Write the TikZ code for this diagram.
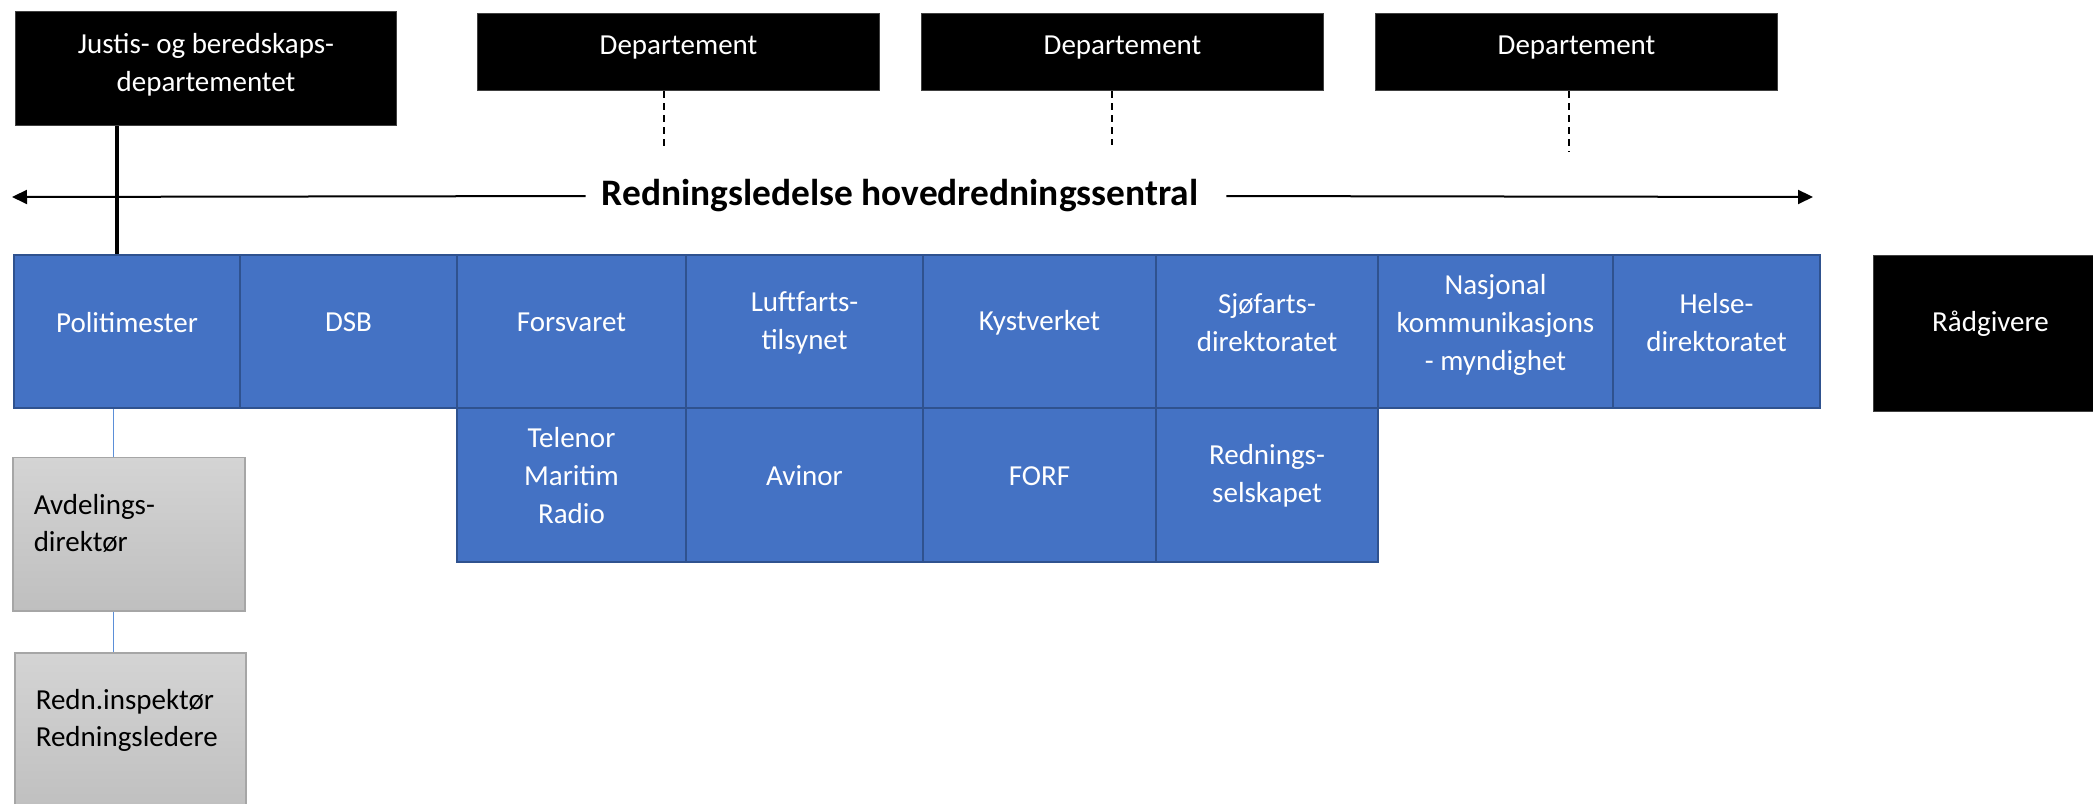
\documentclass[tikz,border=0pt]{standalone}
\usepackage{fontspec}
\setmainfont{Carlito}
\usetikzlibrary{arrows.meta}
\definecolor{cellblue}{HTML}{4472C4}
\definecolor{cellline}{HTML}{2F528F}
\definecolor{greytop}{HTML}{D4D4D4}
\definecolor{greybot}{HTML}{BFBFBF}
\definecolor{greyline}{HTML}{A6A6A6}
\definecolor{linkblue}{HTML}{5B8FD8}
\tikzset{
  box/.style={rectangle, inner sep=0pt, anchor=north west},
  cell/.style={box, fill=cellblue, draw=cellline, line width=2pt},
  blackbox/.style={box, fill=black, draw=black!75, line width=1pt},
  greybox/.style={box, top color=greytop, bottom color=greybot, draw=greyline, line width=1.5pt},
  ctext/.style={text=white, font=\fontsize{29}{38}\selectfont, align=center, inner sep=0pt},
  gtext/.style={text=black, font=\fontsize{29}{37}\selectfont, align=left, text width=200pt, inner sep=0pt},
  jline/.style={line width=3.5pt, black},
  link/.style={line width=1pt, linkblue},
  dline/.style={line width=1.75pt, black, dash pattern=on 7pt off 5pt},
  arr/.style={line width=2pt, black, -{Triangle[length=15pt,width=14pt]}},
}
\begin{document}
\begin{tikzpicture}[x=1pt,y=-1pt]
\useasboundingbox (0,0) rectangle (2093,803);

% top black boxes
\node[blackbox, minimum width=381pt, minimum height=114pt,
  label={[ctext,yshift=4pt]center:{Justis- og beredskaps-\\departementet}}] (jd) at (15,11) {};
\node[blackbox, minimum width=402pt, minimum height=77pt,
  label={[ctext,yshift=4.5pt]center:Departement}] (d1) at (477,13) {};
\node[blackbox, minimum width=402pt, minimum height=77pt,
  label={[ctext,yshift=4.5pt]center:Departement}] (d2) at (921,13) {};
\node[blackbox, minimum width=402pt, minimum height=77pt,
  label={[ctext,yshift=4.5pt]center:Departement}] (d3) at (1375,13) {};

% title with arrows
\node[font=\fontsize{37.4}{44}\selectfont\bfseries, inner sep=0pt] (title) at (900,196) {Redningsledelse hovedredningssentral};
\coordinate (la) at (12,197);
\coordinate (ra) at (1813,197);
\draw[arr, shorten <=16pt] (title.west) -- (la);
\draw[arr, shorten <=28pt] (title.east) -- (ra);

% dashed department links
\coordinate (e1) at (664,147);
\coordinate (e2) at (1112,145);
\coordinate (e3) at (1569,152);
\draw[dline] (d1.south -| e1) -- (e1);
\draw[dline] (d2.south -| e2) -- (e2);
\draw[dline] (d3.south -| e3) -- (e3);

% row 1
\node[cell, minimum width=226pt, minimum height=153pt,
  label={[ctext,yshift=9pt]center:Politimester}] (pol) at (13,254) {};
\node[cell, minimum width=217pt, minimum height=153pt,
  label={[ctext,yshift=9pt]center:DSB}] (dsb) at (239,254) {};
\node[cell, minimum width=229pt, minimum height=153pt,
  label={[ctext,yshift=9pt]center:Forsvaret}] (fors) at (456,254) {};
\node[cell, minimum width=237pt, minimum height=153pt,
  label={[ctext,yshift=9pt]center:{Luftfarts-\\tilsynet}}] (luft) at (685,254) {};
\node[cell, minimum width=233pt, minimum height=153pt,
  label={[ctext,yshift=9pt]center:Kystverket}] (kyst) at (922,254) {};
\node[cell, minimum width=222pt, minimum height=153pt,
  label={[ctext,yshift=9pt]center:{Sjøfarts-\\direktoratet}}] (sjo) at (1155,254) {};
\node[cell, minimum width=235pt, minimum height=153pt,
  label={[ctext,yshift=7pt]center:{Nasjonal\\kommunikasjons\\- myndighet}}] (nas) at (1377,254) {};
\node[cell, minimum width=207pt, minimum height=153pt,
  label={[ctext,yshift=9pt]center:{Helse-\\direktoratet}}] (hel) at (1612,254) {};

% row 2
\node[cell, minimum width=229pt, minimum height=154pt,
  label={[ctext,yshift=9pt]center:{Telenor\\Maritim\\Radio}}] (tel) at (456,407) {};
\node[cell, minimum width=237pt, minimum height=154pt,
  label={[ctext,yshift=9pt]center:Avinor}] (avi) at (685,407) {};
\node[cell, minimum width=233pt, minimum height=154pt,
  label={[ctext,yshift=9pt]center:FORF}] (forf) at (922,407) {};
\node[cell, minimum width=222pt, minimum height=154pt,
  label={[ctext,yshift=9pt]center:{Rednings-\\selskapet}}] (red) at (1155,407) {};

% advisers
\node[blackbox, minimum width=220pt, minimum height=156pt,
  label={[ctext,xshift=7pt,yshift=9.5pt]center:Rådgivere}] (rad) at (1873,255) {};

% grey boxes
\node[greybox, minimum width=232pt, minimum height=153.5pt,
  label={[gtext,xshift=5pt,yshift=11pt]center:{Avdelings-\\direktør}}] (avd) at (12,456.5) {};
\node[greybox, minimum width=231pt, minimum height=160pt,
  label={[gtext,xshift=5.5pt,yshift=12pt]center:{Redn.inspektør\\Redningsledere}}] (rin) at (14,652) {};

% connectors
\coordinate (jx) at (117,0);
\coordinate (px) at (113,0);
\draw[jline] (jd.south -| jx) -- (pol.north -| jx);
\draw[link] (pol.south -| px) -- (avd.north -| px);
\draw[link] (avd.south -| px) -- (rin.north -| px);
\end{tikzpicture}
\end{document}
